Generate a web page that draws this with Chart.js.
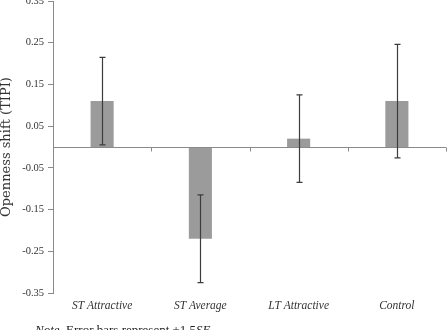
<!DOCTYPE html>
<html>
<head>
<meta charset="utf-8">
<script src="https://cdn.jsdelivr.net/npm/chart.js@4/dist/chart.umd.min.js"></script>
<style>
  html, body { margin: 0; padding: 0; background: #fff; overflow: hidden; }
  #wrap { position: relative; width: 448px; height: 330px; }
  #note {
    position: absolute; left: 35px; top: 323px;
    font: 13px/13px "Liberation Serif", serif; color: #222; white-space: nowrap;
  }
</style>
</head>
<body>
<div id="wrap">
  <canvas id="chartOpen" width="448" height="330"></canvas>
  <div id="note"><i>Note</i>. Error bars represent ±1.5<i>SE</i>.</div>
</div>
<script>
const categorias = ['ST Attractive', 'ST Average', 'LT Attractive', 'Control'];
const medias = [0.11, -0.22, 0.02, 0.11];
const erros = [0.105, 0.105, 0.105, 0.136];

// linha do zero + marcas de categoria
const zeroLinePlugin = {
  id: 'zeroLine',
  afterDatasetsDraw(chart) {
    const { ctx, chartArea, scales } = chart;
    const y0 = Math.round(scales.y.getPixelForValue(0)) + 0.5;
    ctx.save();
    ctx.strokeStyle = '#8a8a8a';
    ctx.lineWidth = 1;
    ctx.beginPath();
    ctx.moveTo(chartArea.left, y0);
    ctx.lineTo(chartArea.right, y0);
    const xs = [chartArea.left];
    for (let i = 1; i < categorias.length; i++) {
      xs.push((scales.x.getPixelForValue(i - 1) + scales.x.getPixelForValue(i)) / 2);
    }
    xs.push(chartArea.right - 0.5);
    xs.forEach(x => {
      const px = Math.round(x) + 0.5;
      ctx.moveTo(px, y0);
      ctx.lineTo(px, y0 + 4);
    });
    ctx.stroke();
    ctx.restore();
  }
};

// barras de erro
const errorBarPlugin = {
  id: 'errorBars',
  afterDatasetsDraw(chart) {
    const { ctx, scales } = chart;
    ctx.save();
    ctx.strokeStyle = '#3c3c3c';
    ctx.lineWidth = 1.2;
    medias.forEach((m, i) => {
      const x = Math.round(scales.x.getPixelForValue(i)) + 0.5;
      const yTop = scales.y.getPixelForValue(m + erros[i]);
      const yBot = scales.y.getPixelForValue(m - erros[i]);
      ctx.beginPath();
      ctx.moveTo(x, yTop);
      ctx.lineTo(x, yBot);
      ctx.moveTo(x - 3, yTop);
      ctx.lineTo(x + 3, yTop);
      ctx.moveTo(x - 3, yBot);
      ctx.lineTo(x + 3, yBot);
      ctx.stroke();
    });
    ctx.restore();
  }
};

const ctx = document.getElementById('chartOpen');
new Chart(ctx, {
  type: 'bar',
  data: {
    labels: categorias,
    datasets: [{
      label: 'Openness shift',
      data: medias,
      backgroundColor: '#9b9b9b',
      borderWidth: 0,
      barPercentage: 0.235,
      categoryPercentage: 1
    }]
  },
  options: {
    responsive: false,
    animation: false,
    devicePixelRatio: 1,
    layout: { padding: { top: 1, right: 2, left: 0, bottom: 0 } },
    plugins: {
      legend: { display: false },
      tooltip: { enabled: false }
    },
    scales: {
      x: {
        grid: { display: false, drawTicks: false },
        border: { display: false },
        ticks: {
          color: '#333',
          padding: 6,
          maxRotation: 0,
          font: { family: 'Liberation Serif', size: 11.5, style: 'italic' }
        },
        afterFit: s => { s.height = 37; s.paddingLeft = 0; s.paddingRight = 0; }
      },
      y: {
        min: -0.35,
        max: 0.35,
        ticks: {
          stepSize: 0.1,
          color: '#333',
          padding: 4,
          font: { family: 'Liberation Serif', size: 10.5 },
          callback: v => Number(v).toFixed(2)
        },
        grid: { drawOnChartArea: false, drawTicks: true, tickLength: 5, color: '#8a8a8a' },
        border: { color: '#8a8a8a', width: 1 },
        title: {
          display: true,
          text: 'Openness shift (TIPI)',
          color: '#333',
          padding: { top: 0, bottom: 0 },
          font: { family: 'DejaVu Serif', size: 13, lineHeight: 1 }
        },
        afterFit: s => { s.width = 53; s.paddingTop = 0; s.paddingBottom = 0; }
      }
    }
  },
  plugins: [zeroLinePlugin, errorBarPlugin]
});
</script>
</body>
</html>
